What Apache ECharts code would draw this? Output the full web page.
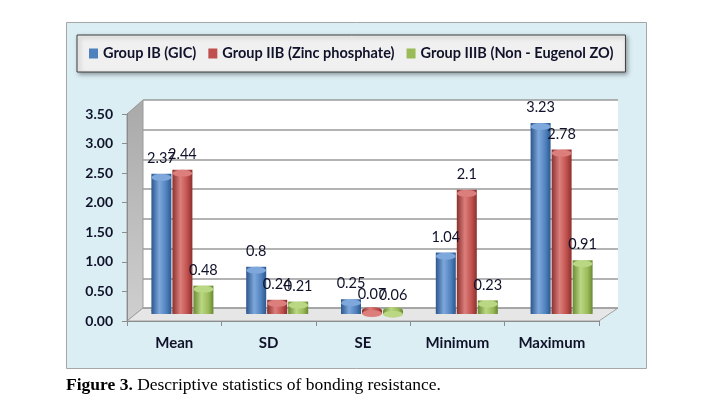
<!DOCTYPE html>
<html>
<head>
<meta charset="utf-8">
<script src="https://cdn.jsdelivr.net/npm/echarts@6/dist/echarts.min.js"></script>
<style>
  html, body { margin: 0; padding: 0; background: #fff; }
  #chart { width: 716px; height: 405px; }
</style>
</head>
<body>
<div id="chart"></div>
<script>
const categories = ['Mean', 'SD', 'SE', 'Minimum', 'Maximum']
const groupNames = ['Group IB (GIC)', 'Group IIB (Zinc phosphate)', 'Group IIIB (Non - Eugenol ZO)']
const groupIB = [2.37, 0.8, 0.25, 1.04, 3.23]
const groupIIB = [2.44, 0.24, 0.07, 2.1, 2.78]
const groupIIIB = [0.48, 0.21, 0.06, 0.23, 0.91]
const yTicks = [0, 0.5, 1, 1.5, 2, 2.5, 3, 3.5]

// colours: base, dark edge, highlight
const palette = [
  ['#4F81BD', '#2c578c', '#7ea7db'],
  ['#C0504D', '#8a302d', '#dc7f7c'],
  ['#9BBB59', '#6a8a33', '#bad784'],
]

// 3d-ish layout: back wall, middle (bars), front (axis)
const back = { left: 143, right: 618, top: 100, bottom: 308 }
const front = { left: 127, right: 599, top: 114, bottom: 321 }
const mid = { left: 135, right: 609, top: 107, bottom: 314 }

function cyl(c) {
  return new echarts.graphic.LinearGradient(0, 0, 1, 0, [
    { offset: 0, color: c[1] },
    { offset: 0.4, color: c[2] },
    { offset: 0.75, color: c[0] },
    { offset: 1, color: c[1] },
  ])
}

const chart = echarts.init(document.getElementById('chart'))
const values = [groupIB, groupIIB, groupIIIB]

const series = []
values.forEach((d, i) => {
  series.push({
    name: groupNames[i],
    type: 'bar',
    xAxisIndex: 2,
    yAxisIndex: 2,
    data: d,
    barWidth: 20,
    barGap: '5%',
    z: 3,
    itemStyle: { color: cyl(palette[i]) },
    label: {
      show: true,
      position: 'top',
      distance: 8,
      color: '#10122a',
      fontFamily: 'Lato',
      fontSize: 14.5,
    },
  })
})
values.forEach((d, i) => {
  series.push({
    name: 'top' + i,
    type: 'pictorialBar',
    xAxisIndex: 2,
    yAxisIndex: 2,
    data: d,
    barWidth: 20,
    barGap: '5%',
    symbol: 'circle',
    symbolSize: [20, 7],
    symbolPosition: 'end',
    z: 4,
    itemStyle: { color: palette[i][2], borderColor: palette[i][1], borderWidth: 0.6 },
  })
  series.push({
    name: 'bottom' + i,
    type: 'pictorialBar',
    xAxisIndex: 3,
    yAxisIndex: 2,
    data: d,
    barWidth: 20,
    barGap: '5%',
    symbol: 'circle',
    symbolSize: [20, 7],
    symbolPosition: 'start',
    z: 2,
    itemStyle: { color: cyl(palette[i]) },
  })
})

const hiddenX = (grid) => ({
  type: 'category', gridIndex: grid, data: categories, show: false,
})

const option = {
  animation: false,
  title: {
    text: '{b|Figure 3.} Descriptive statistics of bonding resistance.',
    left: 61,
    top: 371,
    textStyle: {
      fontFamily: 'Liberation Serif',
      fontSize: 17.5,
      fontWeight: 'normal',
      color: '#000',
      rich: { b: { fontFamily: 'Liberation Serif', fontSize: 17.5, fontWeight: 'bold', color: '#000' } },
    },
  },
  legend: {
    data: groupNames.map((n, i) => ({ name: n, itemStyle: { color: palette[i][0] } })),
    left: 77,
    top: 35,
    padding: [11, 12],
    itemGap: 12,
    itemWidth: 9,
    itemHeight: 10,
    icon: 'rect',
    backgroundColor: '#f0f0f0',
    borderColor: '#3f3f3f',
    borderWidth: 1,
    shadowBlur: 4,
    shadowColor: 'rgba(0,0,0,0.35)',
    shadowOffsetX: 2,
    shadowOffsetY: 2,
    textStyle: { fontFamily: 'Lato', fontWeight: 'bold', fontSize: 14.5, color: '#10122a' },
  },
  graphic: [
    {
      type: 'rect', z: -100,
      shape: { x: 66.5, y: 22.5, width: 580, height: 346 },
      style: { fill: '#DBEEF4', stroke: '#a6a6a6', lineWidth: 1 },
    },
    {
      type: 'polygon', z: -1,
      shape: { points: [[front.left, front.top], [back.left, back.top], [back.left, back.bottom], [front.left, front.bottom]] },
      style: { fill: new echarts.graphic.LinearGradient(0, 0, 0, 1, [{ offset: 0, color: '#a9a9a9' }, { offset: 1, color: '#cfcfcf' }]), stroke: '#9a9a9a' },
    },
    {
      type: 'polygon', z: -1,
      shape: { points: [[front.left, front.bottom], [back.left, back.bottom], [back.right, back.bottom], [front.right, front.bottom]] },
      style: { fill: '#e6e6e6', stroke: '#a0a0a0' },
    },
  ],
  grid: [
    { left: back.left, right: 716 - back.right, top: back.top, bottom: 405 - back.bottom, show: true, backgroundColor: '#fff', borderWidth: 0, z: -2 },
    { left: front.left, right: 716 - front.right, top: front.top, bottom: 405 - front.bottom },
    { left: mid.left, right: 716 - mid.right, top: mid.top, bottom: 405 - mid.bottom },
  ],
  xAxis: [
    hiddenX(0),
    {
      type: 'category', gridIndex: 1, data: categories,
      axisLine: { lineStyle: { color: '#8c8c8c' } },
      axisTick: { show: true, length: 5, lineStyle: { color: '#8c8c8c' } },
      axisLabel: { margin: 15, fontFamily: 'Lato', fontWeight: 'bold', fontSize: 15, color: '#10122a' },
    },
    hiddenX(2),
    hiddenX(2),
  ],
  yAxis: [
    {
      type: 'value', gridIndex: 0, min: 0, max: 3.5, interval: 0.5,
      axisLabel: { show: false }, axisLine: { show: false }, axisTick: { show: false },
      splitLine: { lineStyle: { color: '#9a9a9a', width: 1.5 } },
    },
    {
      type: 'value', gridIndex: 1, min: yTicks[0], max: yTicks[yTicks.length - 1], interval: 0.5,
      axisLine: { show: true, lineStyle: { color: '#8c8c8c' } },
      axisTick: { show: true, length: 5, lineStyle: { color: '#8c8c8c' } },
      splitLine: { show: false },
      axisLabel: {
        margin: 14, fontFamily: 'Lato', fontWeight: 'bold', fontSize: 14, color: '#10122a',
        formatter: (v) => v.toFixed(2),
      },
    },
    { type: 'value', gridIndex: 2, min: 0, max: 3.5, show: false },
  ],
  series: series,
}

chart.setOption(option)
</script>
</body>
</html>
